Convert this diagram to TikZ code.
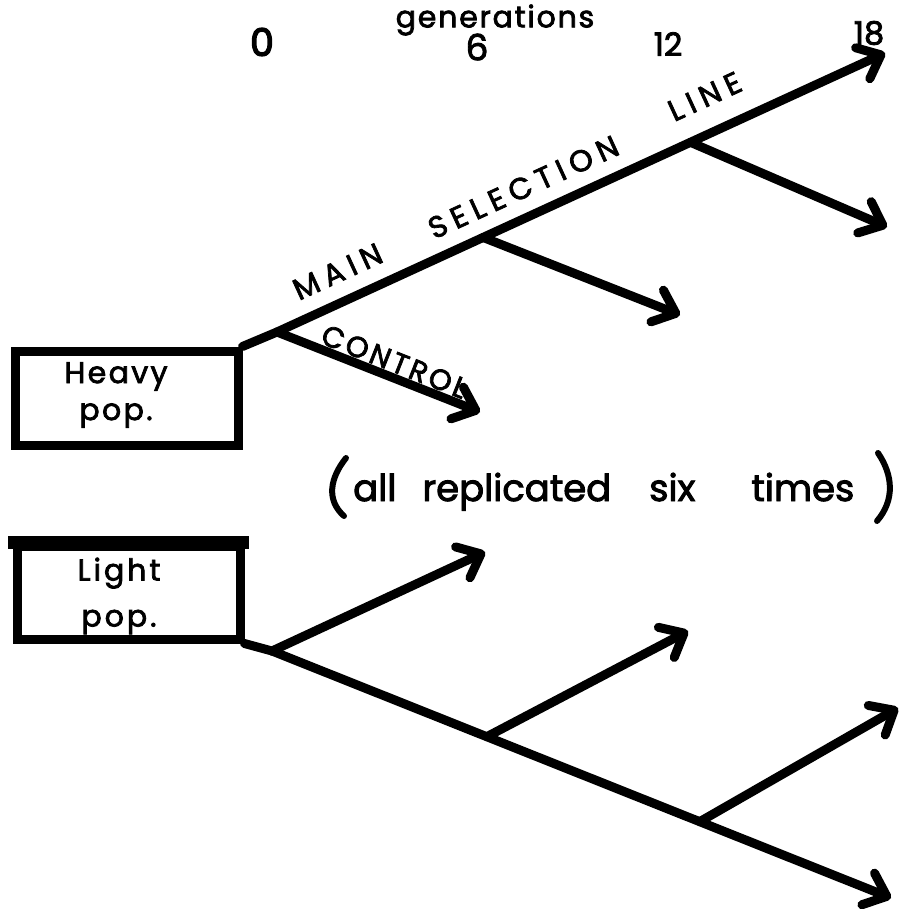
\documentclass[tikz,border=0pt]{standalone}
\usepackage{fontspec}
\setmainfont{Poppins}
\newfontfamily\handfont{Poppins}[FakeBold=2.5]
\usetikzlibrary{arrows.meta,calc}
\begin{document}
\begin{tikzpicture}[x=1pt,y=-1pt,
  stroke/.style={line width=9pt, line cap=round, line join=round},
  arr/.style={stroke, -{Straight Barb[length=20pt,width=34pt,round]}},
  popbox/.style={draw, line width=9pt, minimum width=223pt, inner sep=0pt},
  poptext/.style={font=\handfont\fontsize{30}{37}\selectfont\addfontfeatures{LetterSpace=8}, align=center, inner sep=0pt},
  genlbl/.style={inner sep=0pt},
  linelbl/.style={font=\handfont\fontsize{30}{34}\selectfont\addfontfeatures{LetterSpace=22}, sloped, inner sep=0pt},
  paren/.style={line width=6pt, line cap=round}]
\useasboundingbox (0,0) rectangle (901,912);

% axis of generations
\node[genlbl, font=\handfont\fontsize{30}{34}\selectfont\addfontfeatures{LetterSpace=6}] (gtitle) at (495,20) {generations};
\node[genlbl, font=\handfont\fontsize{38}{40}\selectfont\addfontfeatures{FakeBold=3.5}] (g0) at (262,42) {0};
\node[genlbl, font=\handfont\fontsize{36}{38}\selectfont] (g6) at (477,47) {6};
\node[genlbl, font=\handfont\fontsize{32}{34}\selectfont] (g12) at (668,44) {12};
\node[genlbl, font=\handfont\fontsize{32}{34}\selectfont] (g18) at (869,33) {18};

% the two base populations
\node[popbox, minimum height=94pt] (heavy) at (126.5,398) {};
\node[poptext] (heavytxt) at (116,395) {Heavy\\pop.};
\node[popbox, minimum height=92.5pt] (light) at (128.5,592.75) {};
\draw[line width=13pt] ([xshift=-4.5pt]light.north west) -- ([xshift=4.5pt]light.north east);
\node[poptext, font=\handfont\fontsize{30}{46}\selectfont\addfontfeatures{LetterSpace=10}] (lighttxt) at (119,596) {Light\\pop.};

% heavy lines
\coordinate (hj) at (277,332);
\coordinate (m18) at (885,53);
\coordinate (b6) at ($(hj)!0.339!(m18)$);
\coordinate (b12) at ($(hj)!0.68!(m18)$);
\coordinate (t6) at (680,315);
\coordinate (t12) at (887,227);
\coordinate (tc) at (480,412);
\draw[stroke] (heavy.north east) -- (hj);
\draw[arr] (hj) -- (m18);
\draw[arr] (b6) -- (t6);
\draw[arr] (b12) -- (t12);
\draw[arr] (hj) -- (tc);
\path (hj) -- (m18)
  node[linelbl, pos=0.12, above=19pt] (lmain) {MAIN}
  node[linelbl, pos=0.425, above=18pt] (lsel) {SELECTION}
  node[linelbl, pos=0.728, above=25pt] (lline) {LINE};
\path (hj) -- (tc)
  node[linelbl, font=\handfont\fontsize{29}{32}\selectfont\addfontfeatures{LetterSpace=11}, pos=0.55, above=5pt] (lctrl) {CONTROL};

% light lines
\coordinate (lj) at (272,651);
\coordinate (l18) at (891,898);
\coordinate (c6) at ($(lj)!0.347!(l18)$);
\coordinate (c12) at ($(lj)!0.691!(l18)$);
\coordinate (u0) at (485,552);
\coordinate (u6) at (688,631);
\coordinate (u12) at (898,708);
\draw[stroke] (light.south east) -- (lj);
\draw[arr] (lj) -- (l18);
\draw[arr] (lj) -- (u0);
\draw[arr] (c6) -- (u6);
\draw[arr] (c12) -- (u12);

% replication note
\node[font=\handfont\fontsize{37}{40}\selectfont, anchor=base west, inner sep=0pt] (note) at (353,501)
  {all\hspace{26pt}replicated\hspace{38pt}six\hspace{56pt}times};
\draw[paren] (346,458) .. controls (330,478) and (326,500) .. (344,516);
\draw[paren] (878,453) .. controls (893,475) and (895,500) .. (877,521);
\end{tikzpicture}
\end{document}
